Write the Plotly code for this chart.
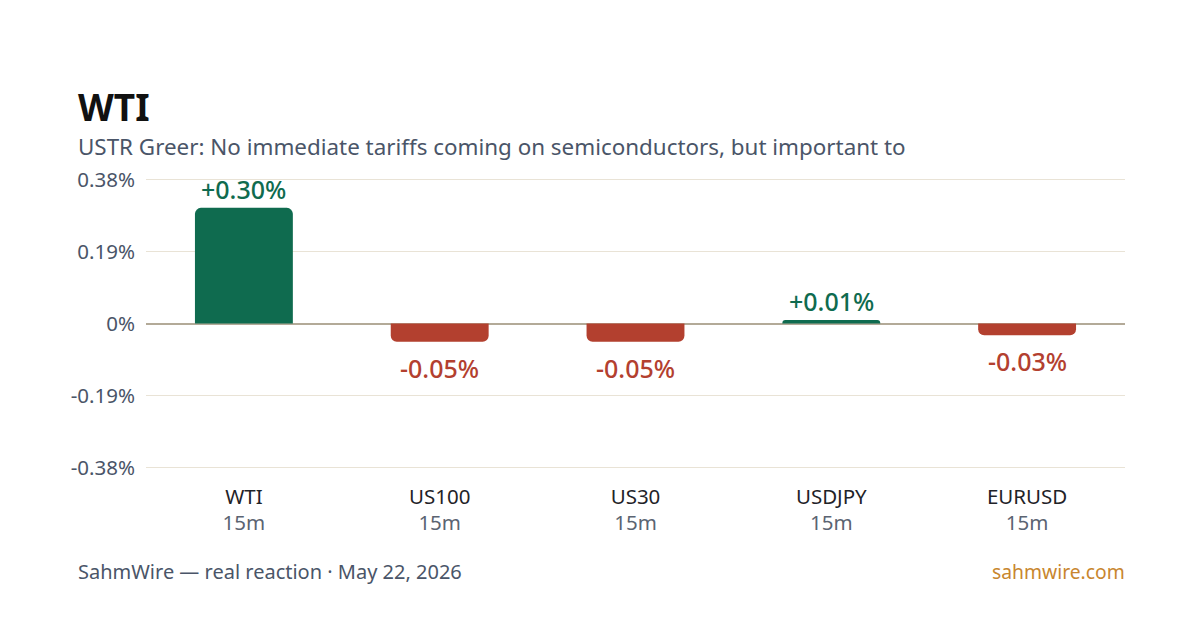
import plotly.graph_objects as go

categories = ["WTI", "US100", "US30", "USDJPY", "EURUSD"]
timeframes = ["15m", "15m", "15m", "15m", "15m"]
values = [0.305, -0.048, -0.048, 0.009, -0.031]
value_labels = ["+0.30%", "-0.05%", "-0.05%", "+0.01%", "-0.03%"]
y_ticks = [-0.38, -0.19, 0, 0.19, 0.38]
y_tick_labels = ["-0.38%", "-0.19%", "0%", "0.19%", "0.38%"]

title = "WTI"
subtitle = "USTR Greer: No immediate tariffs coming on semiconductors, but important to"
footer_left = "SahmWire — real reaction · May 22, 2026"
footer_right = "sahmwire.com"

GREEN = "#0f6b4f"
RED = "#b3402f"
FONT = "Noto Sans"

colors = [GREEN if v >= 0 else RED for v in values]

fig = go.Figure()
fig.add_trace(go.Bar(
    x=categories, y=values, marker=dict(color=colors, cornerradius=6, line=dict(width=0)),
    width=0.5, hoverinfo="skip",
))

for c, v, txt, col in zip(categories, values, value_labels, colors):
    if v >= 0:
        fig.add_annotation(x=c, y=v, text=txt, showarrow=False, yanchor="bottom", yshift=0,
                           font=dict(family=FONT, size=25, color=col, weight=500))
    else:
        fig.add_annotation(x=c, y=v, text=txt, showarrow=False, yanchor="top", yshift=-7,
                           font=dict(family=FONT, size=25, color=col, weight=500))

ticktext = [f"<span style='color:#1f2328'>{c}</span><br><span style='color:#5b6472'>{t}</span>"
            for c, t in zip(categories, timeframes)]

fig.update_layout(
    width=1200, height=630,
    margin=dict(l=146, r=75, t=178, b=161),
    paper_bgcolor="white", plot_bgcolor="white",
    showlegend=False,
    font=dict(family=FONT, color="#4a5568"),
    xaxis=dict(tickvals=categories, ticktext=ticktext, tickfont=dict(size=20.5),
               showgrid=False, zeroline=False, showline=False, ticks="", fixedrange=True,
               ticklabelstandoff=13),
    yaxis=dict(range=[-0.3838, 0.3838], tickvals=y_ticks, ticktext=y_tick_labels,
               tickfont=dict(size=20.5, color="#4a5568"), showgrid=True, gridcolor="#e9e3d6",
               gridwidth=1, zeroline=True, zerolinecolor="#b3aa98", zerolinewidth=2,
               showline=False, ticks="", ticklabelstandoff=10, fixedrange=True),
)

fig.add_annotation(xref="paper", yref="paper", x=-0.071, y=1.0, yshift=72, xanchor="left", yanchor="middle",
                   text=f"<b>{title}</b>", showarrow=False, font=dict(family=FONT, size=37, color="#111111"))
fig.add_annotation(xref="paper", yref="paper", x=-0.071, y=1.0, yshift=32, xanchor="left", yanchor="middle",
                   text=subtitle, showarrow=False, font=dict(family=FONT, size=22.4, color="#4a5568"))
fig.add_annotation(xref="paper", yref="paper", x=-0.071, y=0.0, yshift=-102, xanchor="left", yanchor="middle",
                   text=footer_left, showarrow=False, font=dict(family=FONT, size=20, color="#4a5568"))
fig.add_annotation(xref="paper", yref="paper", x=1.0, y=0.0, yshift=-102, xshift=2, xanchor="right", yanchor="middle",
                   text=footer_right, showarrow=False, font=dict(family=FONT, size=19.3, color="#c8862e"))

fig.write_html("out.html")
